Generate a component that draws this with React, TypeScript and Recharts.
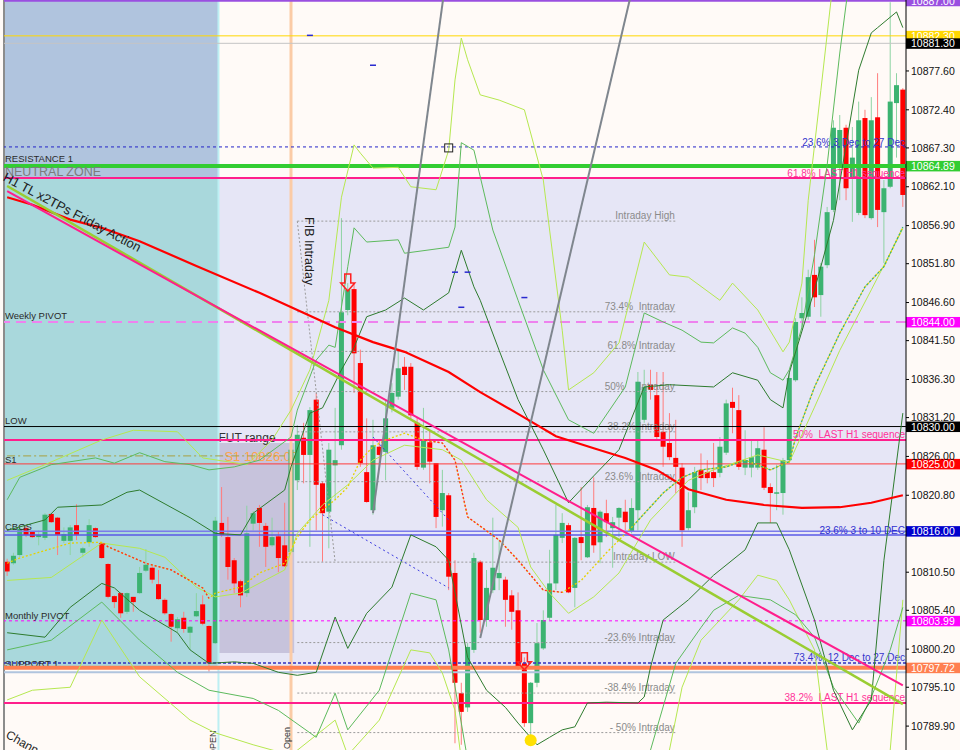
import React from 'react';
import {
  ComposedChart,
  Bar,
  Line,
  XAxis,
  YAxis,
  ReferenceLine,
  ReferenceArea,
  ReferenceDot,
} from 'recharts';

const FONT = "'Liberation Sans', Arial, sans-serif";

// H1 candles, left to right
const opens = [
  10811.9, 10811.7, 10812.8, 10816.4, 10815.9, 10815.2, 10815.1, 10818.3, 10817.8, 10814.7,
  10814.7, 10816.8, 10813.1, 10814.5, 10816.4, 10814.4, 10811.6, 10807.3, 10807.7, 10805.2,
  10807.2, 10807.7, 10810.7, 10811.1, 10808.9, 10806.8, 10804.9, 10803.0, 10804.4, 10802.4,
  10804.6, 10806.2, 10803.3, 10801.0, 10817.1, 10815.2, 10812.1, 10809.3, 10807.7, 10817.0,
  10819.1, 10816.7, 10814.1, 10815.3, 10814.1, 10813.2, 10822.8, 10828.5, 10826.2, 10833.6,
  10822.4, 10818.6, 10824.8, 10827.5, 10845.6, 10848.4, 10838.5, 10823.9, 10818.8, 10827.3,
  10826.6, 10832.5, 10834.0, 10838.0, 10838.0, 10830.5, 10824.5, 10827.9, 10825.1, 10818.8,
  10820.8, 10810.4, 10794.3, 10792.4, 10800.1, 10811.9, 10804.1, 10808.1, 10809.7, 10809.5,
  10807.4, 10805.4, 10798.3, 10790.3, 10795.7, 10800.3, 10804.4, 10809.0, 10815.1, 10816.8,
  10808.4, 10815.2, 10812.5, 10819.1, 10814.5, 10818.4, 10816.4, 10817.8, 10818.6, 10815.9,
  10818.8, 10830.9, 10835.6, 10834.2, 10829.3, 10827.8, 10825.8, 10824.5, 10816.4, 10819.2,
  10824.2, 10823.9, 10823.9, 10823.8, 10826.5, 10833.3, 10832.2, 10824.5, 10824.5, 10824.5,
  10826.9, 10821.9, 10821.0, 10821.1, 10825.5, 10836.2, 10844.5, 10844.7, 10850.3, 10847.6,
  10851.6, 10859.0, 10864.7, 10870.0, 10863.4, 10858.6, 10871.3, 10857.9, 10871.4, 10858.7,
  10862.1, 10873.3, 10875.1,
];
const highs = [
  10812.3, 10813.1, 10816.5, 10816.7, 10816.0, 10816.1, 10818.4, 10818.4, 10817.9, 10816.5,
  10816.8, 10819.6, 10813.9, 10817.6, 10816.5, 10814.5, 10811.7, 10807.4, 10807.8, 10807.8,
  10807.2, 10811.2, 10813.6, 10811.3, 10810.8, 10807.0, 10805.0, 10804.5, 10805.2, 10803.3,
  10807.7, 10807.4, 10803.4, 10817.9, 10821.9, 10817.9, 10812.4, 10809.5, 10819.4, 10818.7,
  10819.5, 10817.1, 10817.8, 10815.9, 10819.8, 10828.2, 10830.2, 10830.5, 10832.6, 10834.5,
  10822.6, 10827.8, 10832.5, 10857.9, 10849.2, 10849.2, 10840.3, 10831.1, 10830.9, 10828.2,
  10833.6, 10835.8, 10840.3, 10839.3, 10838.5, 10831.3, 10832.5, 10829.5, 10825.1, 10824.2,
  10821.1, 10812.1, 10795.7, 10801.0, 10813.1, 10812.1, 10810.8, 10817.8, 10814.8, 10809.9,
  10808.1, 10807.8, 10799.1, 10795.8, 10803.7, 10805.4, 10813.5, 10819.5, 10818.4, 10817.1,
  10815.2, 10821.9, 10819.5, 10823.2, 10818.8, 10820.2, 10817.9, 10819.2, 10820.2, 10820.4,
  10837.3, 10837.6, 10837.6, 10837.3, 10837.3, 10831.8, 10830.9, 10825.1, 10821.2, 10824.6,
  10826.4, 10825.5, 10827.8, 10828.6, 10833.6, 10835.2, 10834.2, 10829.5, 10828.2, 10828.2,
  10829.9, 10822.4, 10824.9, 10825.8, 10837.3, 10844.5, 10847.3, 10851.0, 10855.0, 10851.9,
  10859.4, 10871.0, 10871.7, 10870.4, 10870.1, 10873.5, 10872.4, 10874.1, 10877.3, 10863.0,
  10886.8, 10877.3, 10875.3,
];
const lows = [
  10810.0, 10811.5, 10812.5, 10815.2, 10815.1, 10814.1, 10814.8, 10817.1, 10812.8, 10814.4,
  10812.8, 10814.8, 10812.5, 10813.9, 10815.1, 10812.3, 10807.0, 10805.7, 10804.4, 10804.9,
  10805.2, 10807.6, 10810.5, 10809.0, 10806.8, 10804.8, 10801.2, 10802.4, 10802.4, 10800.1,
  10804.5, 10803.4, 10797.1, 10800.9, 10815.2, 10809.5, 10807.7, 10805.8, 10807.2, 10816.1,
  10813.9, 10811.2, 10813.9, 10810.5, 10811.2, 10812.1, 10821.5, 10822.4, 10813.9, 10816.1,
  10811.9, 10813.7, 10820.2, 10826.9, 10844.9, 10834.5, 10824.6, 10819.8, 10818.2, 10824.2,
  10822.8, 10831.9, 10833.6, 10834.9, 10830.9, 10824.2, 10824.2, 10822.4, 10816.4, 10816.6,
  10808.1, 10787.6, 10787.4, 10791.8, 10799.7, 10802.4, 10803.2, 10807.7, 10808.1, 10803.2,
  10802.8, 10797.4, 10789.8, 10788.0, 10795.1, 10800.1, 10804.1, 10808.1, 10814.4, 10807.7,
  10805.8, 10812.1, 10812.4, 10813.1, 10811.7, 10815.2, 10811.1, 10815.2, 10816.1, 10815.7,
  10816.1, 10830.5, 10833.6, 10828.2, 10824.6, 10825.5, 10821.1, 10813.9, 10816.1, 10818.4,
  10821.5, 10822.4, 10821.9, 10823.2, 10826.2, 10829.1, 10824.2, 10823.5, 10823.2, 10824.2,
  10821.5, 10817.1, 10818.8, 10818.2, 10825.1, 10836.0, 10842.9, 10844.3, 10846.0, 10844.7,
  10851.2, 10858.7, 10860.3, 10860.3, 10857.4, 10858.3, 10857.9, 10857.7, 10856.7, 10851.9,
  10861.9, 10866.0, 10859.4,
];
const closes = [
  10810.6, 10812.7, 10816.3, 10815.5, 10815.2, 10815.5, 10818.2, 10817.2, 10815.5, 10815.6,
  10816.5, 10815.5, 10813.7, 10816.8, 10815.2, 10812.4, 10807.2, 10806.5, 10805.0, 10807.7,
  10806.5, 10810.4, 10811.5, 10809.5, 10806.9, 10805.0, 10803.2, 10804.2, 10802.9, 10803.2,
  10805.3, 10803.6, 10798.3, 10817.4, 10815.5, 10811.2, 10809.0, 10807.4, 10815.7, 10818.4,
  10817.1, 10813.9, 10815.2, 10812.4, 10811.3, 10826.9, 10828.9, 10826.2, 10832.2, 10822.2,
  10818.4, 10826.9, 10825.5, 10845.3, 10848.3, 10839.8, 10825.1, 10819.9, 10827.5, 10826.2,
  10831.1, 10834.5, 10837.8, 10836.9, 10831.5, 10824.6, 10828.2, 10825.3, 10817.9, 10821.1,
  10809.9, 10795.7, 10791.8, 10800.5, 10812.4, 10804.1, 10808.4, 10811.1, 10810.4, 10806.8,
  10805.2, 10797.8, 10790.3, 10795.7, 10801.0, 10804.1, 10809.0, 10815.5, 10817.1, 10807.8,
  10815.1, 10814.4, 10819.2, 10814.1, 10818.6, 10817.2, 10817.2, 10819.1, 10817.2, 10819.1,
  10836.0, 10835.3, 10834.9, 10828.6, 10827.3, 10825.9, 10824.6, 10816.1, 10818.8, 10823.9,
  10823.1, 10823.1, 10823.1, 10827.3, 10833.1, 10832.5, 10824.6, 10825.5, 10825.9, 10827.1,
  10821.8, 10821.1, 10821.2, 10825.5, 10836.5, 10844.0, 10845.2, 10850.0, 10847.3, 10851.4,
  10858.7, 10870.0, 10869.7, 10861.9, 10866.0, 10871.0, 10858.3, 10871.0, 10859.0, 10861.9,
  10873.5, 10875.7, 10861.0,
];

const priceTicks = [
  10877.6, 10872.4, 10867.3, 10862.1, 10856.9, 10851.8, 10846.6, 10841.5, 10836.3, 10831.2,
  10826.0, 10820.8, 10810.5, 10805.4, 10800.2, 10795.1, 10789.9,
];
const priceDomain = [10786.7, 10887.1];

// indicator readings: [bar index, price]
type Pt = [number, number];
const slowMa: Pt[] = [
  [0, 10860.7], [4, 10859.7], [10, 10857.7], [15, 10856.6], [21, 10854.8], [30, 10851.5],
  [40, 10847.9], [46, 10845.6], [52, 10843.3], [58, 10841.3], [63, 10840.0], [70, 10837.3],
  [75, 10834.6], [81, 10831.7], [87, 10828.7], [93, 10827.1], [98, 10825.8], [103, 10824.2],
  [108, 10821.6], [114, 10820.2], [120, 10819.5], [126, 10819.1], [132, 10819.2], [137, 10819.8],
  [142, 10820.8],
];
const fastMa: Pt[] = [
  [0, 10811.7], [2, 10812.4], [10, 10814.4], [15, 10814.5], [16, 10813.9], [22, 10811.7],
  [26, 10810.8], [31, 10808.4], [32, 10807.0], [33, 10807.7], [37, 10808.5], [40, 10810.4],
  [44, 10811.7], [46, 10815.2], [48, 10817.5], [52, 10820.2], [54, 10821.9], [56, 10825.5],
  [58, 10827.3], [60, 10828.2], [63, 10829.1], [66, 10828.2], [69, 10827.8], [71, 10825.5],
  [73, 10817.9], [78, 10814.8], [81, 10812.1], [85, 10808.1], [88, 10807.8], [91, 10809.4],
  [95, 10813.1], [99, 10816.5], [104, 10821.1], [107, 10823.2], [110, 10824.2], [114, 10824.6],
  [117, 10825.5], [121, 10824.2], [124, 10825.3], [125, 10828.5], [128, 10835.3], [132, 10842.5],
  [136, 10848.7], [139, 10851.4], [142, 10856.7],
];
const fastMaDownA: Pt[] = [
  [15, 10814.5], [16, 10813.9], [22, 10811.7], [26, 10810.8], [31, 10808.4], [32, 10807.0],
];
const fastMaDownB: Pt[] = [
  [66, 10828.2], [69, 10827.8], [71, 10825.5], [73, 10817.9], [78, 10814.8], [81, 10812.1],
  [85, 10808.1], [88, 10807.8],
];
const fastMaUp: Pt[] = [
  [99, 10816.5], [104, 10821.1], [107, 10823.2], [110, 10824.2], [114, 10824.6], [117, 10825.5],
  [121, 10824.2], [124, 10825.3], [125, 10828.5], [128, 10835.3], [132, 10842.5], [136, 10848.7],
  [139, 10851.4], [142, 10856.7],
];
const darkUpper: Pt[] = [
  [0, 10816.1], [6, 10817.5], [8, 10819.2], [15, 10819.5], [19, 10821.2], [21, 10821.5],
  [29, 10817.8], [33, 10815.7], [37, 10815.5], [39, 10818.4], [44, 10821.5], [45, 10824.6],
  [48, 10831.8], [50, 10832.5], [53, 10837.6], [55, 10840.6], [57, 10844.7], [60, 10845.6],
  [63, 10847.2], [66, 10845.6], [70, 10847.9], [72, 10853.6], [74, 10848.7], [75, 10846.9],
  [78, 10840.2], [81, 10833.6], [85, 10826.9], [89, 10819.8], [93, 10823.4], [97, 10826.9],
  [101, 10835.3], [105, 10835.6], [112, 10835.3], [115, 10837.2], [119, 10836.2], [121, 10833.6],
  [123, 10832.5], [124, 10837.2], [128, 10848.3], [131, 10857.6], [135, 10877.7], [137, 10882.7],
  [138, 10883.4], [141, 10885.5], [142, 10883.4],
];
const darkLower: Pt[] = [
  [0, 10802.4], [6, 10801.8], [10, 10805.8], [15, 10809.0], [17, 10808.4], [21, 10805.4],
  [27, 10802.4], [29, 10800.1], [32, 10798.3], [36, 10798.5], [39, 10798.3], [43, 10797.1],
  [46, 10796.7], [49, 10797.1], [52, 10804.5], [54, 10800.3], [57, 10805.0], [61, 10808.5],
  [64, 10815.5], [68, 10813.9], [70, 10812.1], [73, 10799.1], [76, 10794.7], [79, 10792.4],
  [81, 10790.3], [84, 10787.4], [86, 10788.4], [88, 10789.4], [90, 10789.8], [92, 10793.0],
  [95, 10793.1], [100, 10793.0], [101, 10793.8], [102, 10797.8], [104, 10804.1], [108, 10806.8],
  [112, 10810.1], [117, 10813.5], [119, 10817.1], [122, 10817.1], [124, 10813.5], [128, 10804.1],
  [131, 10794.7], [134, 10789.4], [137, 10793.4], [139, 10812.1], [142, 10831.8],
];
const midUpper: Pt[] = [
  [0, 10820.2], [2, 10823.2], [7, 10824.9], [14, 10825.8], [17, 10825.1], [21, 10826.5],
  [25, 10825.3], [29, 10824.9], [32, 10824.2], [36, 10824.6], [40, 10825.5], [45, 10828.6],
  [46, 10832.2], [49, 10838.9], [51, 10840.9], [52, 10840.6], [54, 10851.4], [55, 10856.6],
  [57, 10854.7], [62, 10855.0], [63, 10853.2], [70, 10854.0], [71, 10856.7], [72, 10868.0],
  [74, 10867.0], [77, 10856.3], [81, 10846.9], [85, 10837.6], [89, 10830.9], [93, 10829.1],
  [98, 10835.3], [101, 10845.2], [104, 10844.0], [107, 10842.9], [110, 10841.3], [112, 10841.2],
  [115, 10843.2], [117, 10842.5], [119, 10840.6], [121, 10837.2], [123, 10836.2], [124, 10837.6],
  [126, 10843.3], [128, 10853.0], [130, 10865.0], [132, 10880.0], [134, 10893.0],
];
const midLower: Pt[] = [
  [0, 10800.1], [7, 10801.4], [15, 10806.5], [21, 10801.4], [27, 10797.1], [32, 10794.7],
  [39, 10793.6], [43, 10792.0], [49, 10788.4], [52, 10794.3], [54, 10789.4], [59, 10794.7],
  [64, 10807.7], [68, 10806.8], [70, 10800.1], [73, 10785.4], [75, 10782.7], [100, 10782.7],
  [102, 10786.7], [106, 10798.3], [110, 10803.1], [112, 10805.4], [116, 10807.4], [121, 10806.8],
  [125, 10804.8], [128, 10801.8], [131, 10795.1], [135, 10790.3], [137, 10793.8], [140, 10800.1],
  [142, 10805.8],
];
const outerUpper: Pt[] = [
  [0, 10822.8], [6, 10824.9], [15, 10828.2], [20, 10829.5], [27, 10829.3], [31, 10825.8],
  [38, 10824.9], [42, 10828.2], [45, 10832.2], [48, 10837.6], [51, 10846.9], [53, 10860.7],
  [55, 10867.7], [56, 10866.6], [58, 10864.6], [62, 10864.7], [64, 10862.1], [68, 10861.7],
  [70, 10867.0], [71, 10876.4], [72, 10882.0], [73, 10879.1], [75, 10874.4], [78, 10873.7],
  [82, 10872.4], [85, 10863.0], [88, 10842.9], [89, 10834.9], [93, 10837.2], [97, 10841.2],
  [101, 10854.7], [105, 10850.3], [108, 10850.0], [113, 10846.9], [115, 10849.2], [119, 10845.6],
  [123, 10840.0], [124, 10841.3], [126, 10849.2], [127, 10860.3], [129, 10875.0], [131, 10890.0],
];
const outerLower: Pt[] = [
  [0, 10793.4], [4, 10794.7], [10, 10795.1], [15, 10804.1], [21, 10796.5], [29, 10790.7],
  [33, 10789.0], [39, 10787.4], [45, 10786.0], [52, 10790.7], [54, 10786.0], [59, 10790.7],
  [64, 10800.1], [67, 10799.7], [69, 10797.0], [71, 10792.0], [72, 10785.4], [75, 10781.3],
  [103, 10781.3], [105, 10786.7], [107, 10795.1], [110, 10801.4], [113, 10804.1], [116, 10806.8],
  [119, 10810.1], [122, 10809.4], [124, 10806.8], [128, 10800.1], [130, 10786.7], [132, 10781.3],
  [138, 10781.3], [140, 10786.7], [142, 10806.8],
];
const innerLower: Pt[] = [
  [0, 10809.4], [7, 10809.8], [15, 10814.4], [21, 10813.7], [25, 10812.5], [30, 10808.5],
  [33, 10807.2], [37, 10807.7], [44, 10810.8], [46, 10815.7], [50, 10819.5], [54, 10822.2],
  [58, 10825.5], [63, 10827.5], [69, 10826.9], [72, 10825.5], [76, 10820.2], [81, 10816.5],
  [83, 10811.2], [86, 10807.7], [89, 10805.0], [93, 10807.2], [97, 10810.4], [102, 10817.5],
  [108, 10822.8], [112, 10824.2], [119, 10826.2], [124, 10825.2], [128, 10832.6], [132, 10840.2],
  [137, 10848.3], [142, 10856.5],
];

// horizontal levels
const levelPurple = 10887.0;
const levelGold = 10882.3;
const levelSilver = 10881.3;
const dec3to27 = 10867.43;
const resistance1 = 10864.89;
const h1Seq618 = 10863.27;
const weeklyPivot = 10844.0;
const dayLow = 10830.0;
const h1Seq50 = 10828.2;
const s1 = 10826.07;
const level10825 = 10825.0;
const cbos = 10816.0;
const cbosLower = 10815.48;
const monthlyPivot = 10803.99;
const support1 = 10798.33;
const level10797 = 10797.72;
const steelLevel = 10797.1;
const h1Seq382 = 10793.0;

// intraday fib (high 10857.50, low 10811.85)
const fibPrices = [10857.5, 10845.36, 10840.06, 10834.68, 10829.29, 10822.62, 10811.85, 10801.08, 10794.32, 10789.03];
const fibNames = [
  'Intraday High', '73.4%  Intraday', '61.8% Intraday', '50%     Intraday', '38.2% Intraday',
  '23.6%  Intraday', 'Intraday LOW', '-23.6% Intraday', '-38.4% Intraday', '- 50% Intraday',
];

// chart marks: [bar index, price]
const dashMarks: Pt[] = [
  [48, 10882.4], [58, 10878.4], [82, 10847.3], [72, 10846.0], [71, 10850.7], [73, 10850.7],
];
const boxMark: Pt = [70, 10867.3];
const sellArrows: Pt[] = [
  [54, 10849.2], [82, 10798.5],
];

const toMap = (pts: Pt[]) => new Map<number, number>(pts);
const maps = {
  slow: toMap(slowMa),
  fast: toMap(fastMa),
  fastDnA: toMap(fastMaDownA),
  fastDnB: toMap(fastMaDownB),
  fastUp: toMap(fastMaUp),
  dgU: toMap(darkUpper),
  dgL: toMap(darkLower),
  mgU: toMap(midUpper),
  mgL: toMap(midLower),
  ygU: toMap(outerUpper),
  ygL: toMap(outerLower),
  yiL: toMap(innerLower),
};

const rows = opens.map((open, i) => {
  const row: any = { i, open, high: highs[i], low: lows[i], close: closes[i] };
  Object.entries(maps).forEach(([k, m]) => {
    row[k] = m.get(i);
  });
  return row;
});

const Candle = (p: any) => {
  const { x, width, payload } = p;
  let { y, height } = p;
  if (!payload || y == null || height == null) return null;
  if (height < 0) {
    y = y + height;
    height = -height;
  }
  const { open, close, high, low } = payload;
  const k = height / (high - low || 1);
  const yo = y + (high - open) * k;
  const yc = y + (high - close) * k;
  const up = close >= open;
  const cx = x + width / 2;
  return (
    <g>
      <line x1={cx} x2={cx} y1={y} y2={y + height} stroke={up ? '#8ed3a3' : '#ff7d7d'} strokeWidth={1} />
      <rect
        x={cx - 2.5}
        y={Math.min(yo, yc)}
        width={5}
        height={Math.max(1, Math.abs(yc - yo))}
        fill={up ? '#3cb371' : '#ff0000'}
      />
    </g>
  );
};

const LevelLabel = (props: any) => {
  const vb = props.viewBox || {};
  const x0 = vb.x ?? 0;
  const x1 = x0 + (vb.width ?? 0);
  const y = vb.y ?? 0;
  return (
    <g>
      {props.lText ? (
        <text x={x0 + 1} y={y + (props.lDy ?? -3)} fill={props.lColor ?? '#2a2a2a'} fontSize={props.lSize ?? 9.5} fontFamily={FONT}>
          {props.lText}
        </text>
      ) : null}
      {props.rText ? (
        <text
          x={x1 - 1}
          y={y + (props.rDy ?? -2)}
          textAnchor="end"
          fill={props.rColor ?? '#8c8c8c'}
          fontSize={10}
          fontFamily={FONT}
          style={{ whiteSpace: 'pre' }}
        >
          {props.rText}
        </text>
      ) : null}
      {props.boxVal != null ? (
        <g>
          <rect x={x1} y={y - 5} width={54} height={10.5} fill={props.boxColor} />
          <text x={x1 + 5} y={y + 4} fill={props.boxTextColor ?? '#ffffff'} fontSize={10.5} fontFamily={FONT}>
            {props.boxVal.toFixed(2)}
          </text>
        </g>
      ) : null}
    </g>
  );
};

const VLabel = (props: any) => {
  const vb = props.viewBox || {};
  const x = (vb.x ?? 0) + (props.dx ?? -2);
  const y = (vb.y ?? 0) + (vb.height ?? 0) + (props.dy ?? 0);
  return (
    <text x={x} y={y} transform={`rotate(-90 ${x} ${y})`} fontSize={9} fill="#333" fontFamily={FONT}>
      {props.text}
    </text>
  );
};

const TrendText = (props: any) => {
  const vb = props.viewBox || {};
  const x = (vb.x ?? 0) - 5;
  const y = (vb.y ?? 0) - 6;
  return (
    <text x={x} y={y} transform={`rotate(28 ${x} ${y})`} fontSize={13} fill="#1e1e1e" fontFamily={FONT}>
      H1 TL x2TPs Friday Action
    </text>
  );
};

const BorderText = (props: any) => {
  const vb = props.viewBox || {};
  const x = (vb.x ?? 0) + 1;
  const y = (vb.y ?? 0) + (vb.height ?? 0) - 13;
  return (
    <text x={x} y={y} transform={`rotate(30 ${x} ${y})`} fontSize={12} fill="#1e1e1e" fontFamily={FONT}>
      Channel
    </text>
  );
};

const FibText = (props: any) => {
  const vb = props.viewBox || {};
  const x = (vb.x ?? 0) + 8;
  const y = (vb.y ?? 0) - 4;
  return (
    <text x={x} y={y} transform={`rotate(90 ${x} ${y})`} fontSize={12.5} fill="#1e1e1e" fontFamily={FONT}>
      FIB Intraday
    </text>
  );
};

const FutText = (props: any) => {
  const vb = props.viewBox || {};
  const x = vb.x ?? 0;
  const y = vb.y ?? 0;
  return (
    <g>
      <text x={x} y={y - 1} fontSize={12} fill="#333" fontFamily={FONT}>
        FUT range
      </text>
      <text x={x + 6} y={y + 18} fontSize={13} fill="#ffa54a" fontFamily={FONT}>
        S1 10826.07
      </text>
    </g>
  );
};

const DashMark = (p: any) => <rect x={p.cx - 3} y={p.cy - 0.5} width={6} height={1.5} fill="#2a2ad0" />;
const BoxMark = (p: any) => <rect x={p.cx - 4} y={p.cy - 4} width={8} height={8} fill="none" stroke="#222" strokeWidth={1} />;
const ArrowMark = (p: any) => {
  const { cx, cy } = p;
  const d = `M${cx - 3} ${cy - 9} L${cx + 3} ${cy - 9} L${cx + 3} ${cy} L${cx + 7} ${cy} L${cx} ${cy + 8} L${cx - 7} ${cy} L${cx - 3} ${cy} Z`;
  return <path d={d} fill="none" stroke="#ff2020" strokeWidth={1.5} />;
};

const bandLine = (key: string, color: string, width = 1) => (
  <Line
    key={key}
    dataKey={key}
    type="linear"
    stroke={color}
    strokeWidth={width}
    dot={false}
    activeDot={false}
    connectNulls
    isAnimationActive={false}
  />
);

export default function App() {
  return (
    <div
      style={{
        position: 'absolute',
        left: 0,
        top: 0,
        width: 960,
        height: 750,
        background: '#fffaf7',
        overflow: 'hidden',
      }}
    >
      <ComposedChart width={960} height={750} data={rows} margin={{ top: 0, right: 0, bottom: 0, left: 4 }}>
        <XAxis dataKey="i" hide />
        <YAxis
          orientation="right"
          width={54}
          domain={priceDomain}
          allowDataOverflow
          ticks={priceTicks}
          interval={0}
          tickSize={3}
          tickFormatter={(v: number) => v.toFixed(2)}
          tick={{ fill: '#111', fontSize: 10.5, fontFamily: FONT }}
          axisLine={{ stroke: '#000' }}
          tickLine={{ stroke: '#000' }}
        />

        {/* zones */}
        <ReferenceArea x2={33} y1={h1Seq618} y2={priceDomain[1]} fill="#b0c4de" fillOpacity={1} />
        <ReferenceArea x2={33} y1={level10797} y2={h1Seq618} fill="#a9d8dc" fillOpacity={1} />
        <ReferenceArea x1={34} y1={level10797} y2={h1Seq618} fill="#e6e6f6" fillOpacity={1} />
        <ReferenceArea x1={34} x2={45} y1={10799.67} y2={10827.79} fill="#c7c3dc" fillOpacity={1} label={<FutText />} />

        {/* vertical session lines */}
        <ReferenceLine x={0} position="start" stroke="#8c8c8c" strokeWidth={2} label={<BorderText />} />
        <ReferenceLine x={34} position="start" stroke="#bdeff3" strokeWidth={2} label={<VLabel text="OPEN" dy={6} />} />
        <ReferenceLine x={45} stroke="#fbcba6" strokeWidth={3} label={<VLabel text="Open" dy={-1} dx={-1} />} />

        {/* levels */}
        <ReferenceLine y={levelPurple} stroke="#9a4fe0" strokeWidth={2} label={<LevelLabel boxVal={levelPurple} boxColor="#9a4fe0" />} />
        <ReferenceLine y={levelGold} stroke="#ffd700" strokeWidth={1} label={<LevelLabel boxVal={levelGold} boxColor="#ffd700" />} />
        <ReferenceLine y={levelSilver} stroke="#c4c4c4" strokeWidth={1} label={<LevelLabel boxVal={levelSilver} boxColor="#000000" />} />
        <ReferenceLine
          y={dec3to27}
          stroke="#2424c8"
          strokeDasharray="3 3"
          label={<LevelLabel rText="23.6% 3 Dec to 27 Dec" rColor="#3535cc" rDy={-1} />}
        />
        <ReferenceLine
          y={resistance1}
          stroke="#32cd32"
          strokeWidth={4}
          label={<LevelLabel lText="RESISTANCE 1" lDy={-4} boxVal={resistance1} boxColor="#32cd32" />}
        />
        <ReferenceLine
          y={h1Seq618}
          stroke="#ff1e8c"
          strokeWidth={2}
          label={
            <LevelLabel lText="NEUTRAL ZONE" lDy={-2} lSize={12.5} lColor="#7c7c7c" rText="61.8% LAST H1 sequence" rColor="#ff3399" rDy={-1} />
          }
        />
        {fibPrices.map((p, k) => (
          <ReferenceLine
            key={'fib' + k}
            segment={[
              { x: 46, y: p },
              { x: 106, y: p },
            ]}
            stroke="#9a9a9a"
            strokeDasharray="2 2"
            label={<LevelLabel rText={fibNames[k]} rColor="#8a8a8a" rDy={-2} />}
          />
        ))}
        <ReferenceLine
          segment={[
            { x: 46, y: 10857.5 },
            { x: 52, y: 10811.85 },
          ]}
          stroke="#9a9a9a"
          strokeDasharray="2 2"
          label={<FibText />}
        />
        <ReferenceLine
          y={weeklyPivot}
          stroke="#ee82ee"
          strokeWidth={2}
          strokeDasharray="10 6"
          label={<LevelLabel lText="Weekly PIVOT" boxVal={weeklyPivot} boxColor="#ff00ff" />}
        />
        <ReferenceLine y={dayLow} stroke="#000" strokeWidth={1} label={<LevelLabel lText="LOW" boxVal={dayLow} boxColor="#000000" />} />
        <ReferenceLine
          y={h1Seq50}
          stroke="#ff1e8c"
          strokeWidth={2}
          label={<LevelLabel rText="50%  LAST H1 sequence" rColor="#ff3399" rDy={-2} />}
        />
        <ReferenceLine
          segment={[
            { x: 0, y: s1 },
            { x: 44, y: s1 },
          ]}
          stroke="#a8a040"
          strokeDasharray="8 3 2 3"
        />
        <ReferenceLine
          y={level10825}
          stroke="#ff3b3b"
          strokeWidth={1}
          label={<LevelLabel lText="S1" lDy={-1} boxVal={level10825} boxColor="#ff0000" />}
        />
        <ReferenceLine y={cbosLower} stroke="#5a5ae6" strokeWidth={1.5} />
        <ReferenceLine
          y={cbos}
          stroke="#7b7bea"
          strokeWidth={1.5}
          label={<LevelLabel lText="CBOS" lDy={-1} rText="23.6% 3 to 10 DEC" rColor="#2f2fd0" rDy={3} boxVal={cbos} boxColor="#0000cd" />}
        />
        <ReferenceLine
          y={monthlyPivot}
          stroke="#ff00ff"
          strokeDasharray="3 3"
          label={<LevelLabel lText="Monthly PIVOT" lDy={-2} boxVal={monthlyPivot} boxColor="#ff00ff" />}
        />
        <ReferenceLine
          y={support1}
          stroke="#3030c0"
          strokeWidth={1.5}
          strokeDasharray="3 2"
          label={<LevelLabel lText="SUPPORT 1" lDy={4} rText="73.4%  12 Dec to 27 Dec" rColor="#3535cc" rDy={-2} />}
        />
        <ReferenceLine y={level10797} stroke="#ff7f50" strokeWidth={4} label={<LevelLabel boxVal={level10797} boxColor="#ff7f50" />} />
        <ReferenceLine y={steelLevel} stroke="#b0c4de" strokeWidth={2} />
        <ReferenceLine
          y={h1Seq382}
          stroke="#ff1e8c"
          strokeWidth={2}
          label={<LevelLabel rText="38.2%  LAST H1 sequence" rColor="#ff3399" rDy={-2} />}
        />

        {/* candles */}
        <Bar
          dataKey={(d: any) => [d.low, d.high]}
          shape={(p: any) => <Candle {...p} />}
          isAnimationActive={false}
        />

        {/* bands and averages */}
        {bandLine('ygU', '#b6e850')}
        {bandLine('ygL', '#b6e850')}
        {bandLine('yiL', '#b6e850')}
        {bandLine('mgU', '#5dba5d')}
        {bandLine('mgL', '#5dba5d')}
        {bandLine('dgU', '#2e7b2e')}
        {bandLine('dgL', '#2e7b2e')}
        <Line dataKey="slow" type="linear" stroke="#ff0000" strokeWidth={2.2} dot={false} activeDot={false} connectNulls isAnimationActive={false} />
        <Line dataKey="fast" type="linear" stroke="#e6d200" strokeWidth={1.3} strokeDasharray="2 2" dot={false} activeDot={false} connectNulls isAnimationActive={false} />
        <Line dataKey="fastDnA" type="linear" stroke="#ff2a2a" strokeWidth={1.3} strokeDasharray="2 2" strokeDashoffset={2} dot={false} activeDot={false} connectNulls isAnimationActive={false} />
        <Line dataKey="fastDnB" type="linear" stroke="#ff2a2a" strokeWidth={1.3} strokeDasharray="2 2" strokeDashoffset={2} dot={false} activeDot={false} connectNulls isAnimationActive={false} />
        <Line dataKey="fastUp" type="linear" stroke="#3cb371" strokeWidth={1.3} strokeDasharray="2 2" strokeDashoffset={2} dot={false} activeDot={false} connectNulls isAnimationActive={false} />

        {/* trend lines */}
        <ReferenceLine
          segment={[
            { x: 0, y: 10862.2 },
            { x: 142, y: 10792.85 },
          ]}
          stroke="#9acd32"
          strokeWidth={2.5}
          label={<TrendText />}
        />
        <ReferenceLine
          segment={[
            { x: 0, y: 10861.5 },
            { x: 142, y: 10795.34 },
          ]}
          stroke="#ff1e8c"
          strokeWidth={2}
        />
        <ReferenceLine
          segment={[
            { x: 58, y: 10818.4 },
            { x: 70, y: 10892.7 },
          ]}
          stroke="#7f868e"
          strokeWidth={2}
          ifOverflow="hidden"
        />
        <ReferenceLine
          segment={[
            { x: 75, y: 10801.7 },
            { x: 99, y: 10888.2 },
          ]}
          stroke="#7f868e"
          strokeWidth={2}
          ifOverflow="hidden"
        />
        <ReferenceLine
          segment={[
            { x: 58, y: 10828.6 },
            { x: 70, y: 10817.5 },
          ]}
          stroke="#3a3ae0"
          strokeDasharray="2 3"
        />
        <ReferenceLine
          segment={[
            { x: 50, y: 10818.2 },
            { x: 70, y: 10808.4 },
          ]}
          stroke="#3a3ae0"
          strokeDasharray="2 3"
        />

        {/* marks */}
        {dashMarks.map(([i, p], k) => (
          <ReferenceDot key={'dm' + k} x={i} y={p} r={3} shape={(s: any) => <DashMark {...s} />} />
        ))}
        <ReferenceDot x={boxMark[0]} y={boxMark[1]} r={4} shape={(s: any) => <BoxMark {...s} />} />
        {sellArrows.map(([i, p], k) => (
          <ReferenceDot key={'ar' + k} x={i} y={p} r={6} shape={(s: any) => <ArrowMark {...s} />} />
        ))}
        <ReferenceDot x={83} y={10788.0} r={6} fill="#ffe000" stroke="none" />
      </ComposedChart>
    </div>
  );
}
